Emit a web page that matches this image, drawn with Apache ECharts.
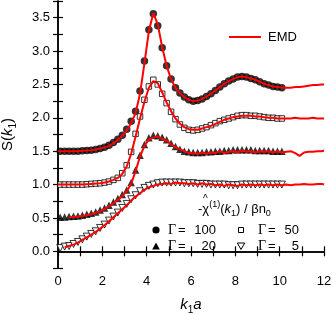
<!DOCTYPE html>
<html><head><meta charset="utf-8">
<script src="https://cdn.jsdelivr.net/npm/echarts@6/dist/echarts.min.js"></script>
<style>html,body{margin:0;padding:0;background:#fff}#c{width:332px;height:314px}</style>
</head><body><div id="c"></div>
<script>
// k grid of the simulation points
const kMark = [0.1,0.3,0.5,0.7,0.9,1.1,1.3,1.5,1.7,1.9,2.1,2.3,2.5,2.7,2.9,3.1,3.3,3.5,3.7,3.9,4.1,4.3,4.5,4.7,4.9,5.1,5.3,5.5,5.7,5.9,6.1,6.3,6.5,6.7,6.9,7.1,7.3,7.5,7.7,7.9,8.1,8.3,8.5,8.7,8.9,9.1,9.3,9.5,9.7,9.9,10.1];
// k grid of the EMD curves
const kEmd = [0,0.1,0.3,0.5,0.7,0.9,1.1,1.3,1.5,1.7,1.9,2.1,2.3,2.5,2.7,2.9,3.1,3.3,3.5,3.7,3.9,4.1,4.3,4.5,4.7,4.9,5.1,5.3,5.5,5.7,5.9,6.1,6.3,6.5,6.7,6.9,7.1,7.3,7.5,7.7,7.9,8.1,8.3,8.5,8.7,8.9,9.1,9.3,9.5,9.7,9.9,10.1,10.3,10.5,10.7,10.9,11.1,11.3,11.5,11.7,11.9,12.0];

// simulation points (with vertical offsets as plotted)
const g100 = [1.50,1.50,1.50,1.50,1.50,1.505,1.51,1.515,1.525,1.54,1.56,1.59,1.63,1.68,1.74,1.83,1.95,2.10,2.40,2.85,3.32,3.56,3.38,3.05,2.78,2.58,2.45,2.37,2.31,2.27,2.25,2.26,2.28,2.32,2.36,2.41,2.46,2.51,2.55,2.58,2.61,2.62,2.61,2.59,2.57,2.54,2.51,2.49,2.47,2.46,2.45];
const g50 = [1.00,1.00,1.00,1.00,1.00,1.00,1.005,1.01,1.015,1.02,1.03,1.045,1.07,1.10,1.17,1.29,1.49,1.76,2.02,2.27,2.47,2.57,2.50,2.36,2.22,2.09,1.98,1.90,1.85,1.82,1.81,1.82,1.84,1.86,1.89,1.92,1.95,1.97,1.99,2.01,2.03,2.04,2.04,2.03,2.03,2.02,2.01,2.00,2.00,1.99,1.99];
const g20 = [0.51,0.515,0.52,0.525,0.53,0.54,0.555,0.57,0.59,0.62,0.65,0.69,0.74,0.79,0.85,0.92,1.03,1.22,1.44,1.60,1.70,1.74,1.73,1.71,1.67,1.62,1.57,1.53,1.50,1.49,1.48,1.48,1.48,1.49,1.49,1.50,1.50,1.51,1.51,1.52,1.52,1.52,1.52,1.52,1.51,1.51,1.51,1.51,1.50,1.50,1.50];
const g5 = [0.05,0.07,0.08,0.11,0.14,0.18,0.22,0.26,0.30,0.35,0.40,0.46,0.52,0.58,0.65,0.71,0.78,0.84,0.90,0.95,0.98,1.00,1.02,1.03,1.03,1.03,1.03,1.03,1.02,1.02,1.02,1.01,1.01,1.01,1.00,1.00,1.00,1.00,0.99,0.99,0.99,1.00,1.00,1.00,1.00,1.00,1.00,1.00,1.00,1.00,1.00];

// EMD curves
const e100 = [1.50,1.50,1.50,1.50,1.50,1.50,1.505,1.51,1.515,1.525,1.54,1.555,1.58,1.62,1.67,1.73,1.81,1.92,2.07,2.36,2.82,3.30,3.57,3.40,3.06,2.78,2.58,2.45,2.37,2.31,2.27,2.25,2.26,2.28,2.32,2.36,2.41,2.46,2.51,2.55,2.58,2.61,2.62,2.61,2.59,2.57,2.54,2.51,2.49,2.47,2.46,2.45,2.45,2.45,2.46,2.46,2.47,2.48,2.49,2.49,2.50,2.50];
const e50 = [1.00,1.00,1.00,1.00,1.00,1.00,1.00,1.005,1.01,1.015,1.02,1.03,1.045,1.07,1.10,1.16,1.27,1.46,1.72,1.99,2.24,2.45,2.55,2.52,2.38,2.23,2.10,1.99,1.91,1.86,1.83,1.82,1.82,1.84,1.86,1.88,1.91,1.94,1.97,1.99,2.01,2.02,2.03,2.03,2.03,2.02,2.02,2.01,2.00,2.00,1.99,1.99,1.99,1.99,2.00,1.99,1.99,1.99,2.00,1.99,1.99,1.99];
const e20 = [null,null,null,0.51,0.515,0.52,0.53,0.54,0.555,0.575,0.60,0.635,0.675,0.72,0.77,0.83,0.90,1.01,1.20,1.42,1.58,1.68,1.70,1.72,1.68,1.66,1.60,1.56,1.53,1.50,1.47,1.47,1.46,1.48,1.46,1.48,1.47,1.50,1.47,1.49,1.50,1.48,1.51,1.49,1.50,1.48,1.50,1.49,1.50,1.48,1.50,1.48,1.49,1.50,1.47,1.43,1.48,1.49,1.49,1.50,1.50,1.51];
const e5 = [null,null,0.06,0.08,0.10,0.13,0.17,0.21,0.25,0.29,0.34,0.39,0.45,0.51,0.57,0.63,0.69,0.76,0.82,0.87,0.92,0.96,0.98,1.00,1.01,1.02,1.01,1.03,1.02,1.02,1.01,1.02,1.00,1.02,1.00,1.01,0.99,1.00,0.98,1.00,0.99,0.98,1.00,0.99,1.00,0.99,1.00,0.99,1.00,0.99,1.00,0.99,1.00,0.99,1.00,1.00,1.01,1.00,1.00,1.01,1.01,1.00];

const xTicks = [0,2,4,6,8,10,12];
const yTicks = [0.0,0.5,1.0,1.5,2.0,2.5,3.0,3.5];
const gammaValues = ['100','50','20','5'];
const emdName = 'EMD';

const zip = (ks, vs) => ks.map((k, i) => [k, vs[i] === undefined ? null : vs[i]]);
const F = 'Liberation Sans, Arial, sans-serif';
const SERIF = 'Liberation Serif, Times New Roman, serif';

const axisCommon = {
  axisLine: {show: true, lineStyle: {color: '#000', width: 1.5}},
  axisTick: {show: true, inside: true, length: 5, lineStyle: {color: '#000', width: 1.2}},
  splitLine: {show: false}
};

const chart = echarts.init(document.getElementById('c'), null, {renderer: 'canvas'});
const markerSeries = (name, data, symbol, size, filled) => ({
  type: 'scatter', name, data: zip(kMark, data), symbol, symbolSize: size,
  itemStyle: {color: filled ? '#000' : '#fff', borderColor: '#000', borderWidth: filled ? 0 : 1},
  z: 2, silent: true
});
const emdSeries = (data) => ({
  type: 'line', name: emdName, data: zip(kEmd, data), showSymbol: false, symbol: 'none',
  lineStyle: {color: '#ff0000', width: 2}, z: 3, silent: true, connectNulls: false
});

const gammaLabel = (x, y, val, xr) => ([
  {type: 'text', x: x, y: y, style: {text: 'Γ', font: '14px ' + SERIF, fill: '#000', textVerticalAlign: 'middle'}, z: 10},
  {type: 'text', x: x + 10, y: y, style: {text: '=', font: '13px ' + F, fill: '#000', textVerticalAlign: 'middle'}, z: 10},
  {type: 'text', x: xr, y: y, style: {text: val, font: '13px ' + F, fill: '#000', textAlign: 'right', textVerticalAlign: 'middle'}, z: 10}
]);

chart.setOption({
  animation: false,
  grid: {left: 58, right: 8, top: 1, bottom: 46, containLabel: false, outerBoundsMode: 'none'},
  xAxis: [
    Object.assign({}, axisCommon, {
      type: 'value', min: 0, max: 12, interval: 1, position: 'bottom',
      name: '{i|k}{s|1}{i|a}', nameLocation: 'middle', nameGap: 27,
      nameTextStyle: {rich: {
        i: {fontFamily: F, fontStyle: 'italic', fontSize: 15, color: '#000', lineHeight: 20, verticalAlign: 'middle'},
        s: {fontFamily: F, fontSize: 10, color: '#000', lineHeight: 10, verticalAlign: 'bottom'}
      }},
      axisLabel: {show: true, margin: 7, fontFamily: F, fontSize: 13, color: '#000', hideOverlap: false,
        showMinLabel: true, showMaxLabel: true,
        formatter: v => xTicks.indexOf(v) >= 0 ? String(v) : ''}
    }),
    Object.assign({}, axisCommon, {
      type: 'value', min: 0, max: 12, interval: 1, position: 'top', axisLabel: {show: false}
    })
  ],
  yAxis: [
    Object.assign({}, axisCommon, {
      type: 'value', min: -0.25, max: 3.75, interval: 0.25, position: 'left',
      name: '{n|S(}{i|k}{s|1}{n|)}', nameLocation: 'middle', nameRotate: 90, nameGap: 40,
      nameTextStyle: {rich: {
        n: {fontFamily: F, fontSize: 15, color: '#000', lineHeight: 20, verticalAlign: 'middle'},
        i: {fontFamily: F, fontStyle: 'italic', fontSize: 15, color: '#000', lineHeight: 20, verticalAlign: 'middle'},
        s: {fontFamily: F, fontSize: 10, color: '#000', lineHeight: 10, verticalAlign: 'bottom'}
      }},
      axisLabel: {show: true, margin: 8, fontFamily: F, fontSize: 13, color: '#000', hideOverlap: false,
        showMinLabel: true, showMaxLabel: true,
        formatter: v => {
          const hit = yTicks.find(t => Math.abs(t - v) < 1e-6);
          return hit === undefined ? '' : hit.toFixed(1);
        }}
    }),
    Object.assign({}, axisCommon, {
      type: 'value', min: -0.25, max: 3.75, interval: 0.25, position: 'right', axisLabel: {show: false}
    })
  ],
  series: [
    markerSeries('Γ = ' + gammaValues[0], g100, 'circle', 7.5, true),
    markerSeries('Γ = ' + gammaValues[1], g50, 'rect', 5.5, false),
    markerSeries('Γ = ' + gammaValues[2], g20, 'triangle', 7.5, true),
    markerSeries('Γ = ' + gammaValues[3], g5, 'path://M0,0 L10,0 L5,9 Z', 7, false),
    emdSeries(e100), emdSeries(e50), emdSeries(e20), emdSeries(e5)
  ],
  graphic: [
    {type: 'line', shape: {x1: 229, y1: 37, x2: 261, y2: 37}, style: {stroke: '#ff0000', lineWidth: 2}, z: 10},
    {type: 'text', x: 268, y: 37, style: {text: emdName, font: '13px ' + F, fill: '#000', textVerticalAlign: 'middle'}, z: 10},
    {type: 'text', x: 198, y: 209, style: {
      text: '{n|-χ}{p|(1)}{n|(}{i|k}{s|1}{n|) / βn}{s|0}', textVerticalAlign: 'middle',
      rich: {
        n: {fontFamily: F, fontSize: 13, fill: '#000', lineHeight: 18, verticalAlign: 'middle'},
        i: {fontFamily: F, fontStyle: 'italic', fontSize: 13, fill: '#000', lineHeight: 18, verticalAlign: 'middle'},
        s: {fontFamily: F, fontSize: 9, fill: '#000', lineHeight: 9, verticalAlign: 'bottom'},
        p: {fontFamily: F, fontSize: 9, fill: '#000', lineHeight: 9, verticalAlign: 'top'}
      }}, z: 10},
    {type: 'text', x: 203, y: 194, style: {text: '^', font: '10px ' + F, fill: '#000'}, z: 10},
    // symbol legend
    {type: 'circle', shape: {cx: 156, cy: 230, r: 3.6}, style: {fill: '#000'}, z: 10},
    {type: 'rect', shape: {x: 238.5, y: 227.5, width: 5, height: 5}, style: {fill: '#fff', stroke: '#000', lineWidth: 1}, z: 10},
    {type: 'polygon', shape: {points: [[156, 242.5], [159.8, 249.5], [152.2, 249.5]]}, style: {fill: '#000'}, z: 10},
    {type: 'polygon', shape: {points: [[237.3, 243], [244.7, 243], [241, 249.5]]}, style: {fill: '#fff', stroke: '#000', lineWidth: 1}, z: 10}
  ].concat(
    gammaLabel(168, 230, gammaValues[0], 216),
    gammaLabel(258, 230, gammaValues[1], 299),
    gammaLabel(168, 246, gammaValues[2], 216),
    gammaLabel(258, 246, gammaValues[3], 299)
  )
});
</script></body></html>
